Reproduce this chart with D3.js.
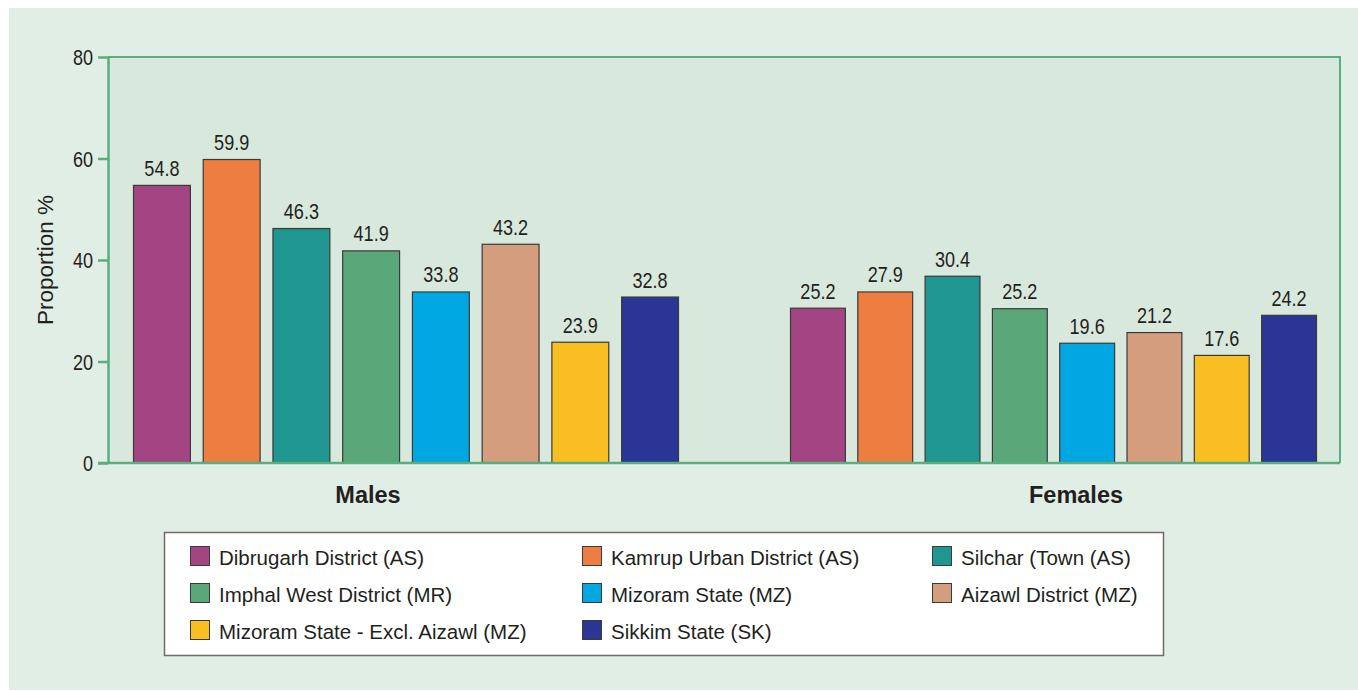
<!DOCTYPE html>
<html>
<head>
<meta charset="utf-8">
<script src="https://cdn.jsdelivr.net/npm/d3@7"></script>
<style>
  html, body { margin: 0; padding: 0; background: #ffffff; }
  svg { display: block; }
  .reg { font-family: "Liberation Sans", Arial, Helvetica, sans-serif; }
</style>
</head>
<body>
<script>
// ---------- DATA ----------
const groups = ["Males", "Females"];
const seriesNames = [
  "Dibrugarh District (AS)",
  "Kamrup Urban District (AS)",
  "Silchar (Town (AS)",
  "Imphal West District (MR)",
  "Mizoram State (MZ)",
  "Aizawl District (MZ)",
  "Mizoram State - Excl. Aizawl (MZ)",
  "Sikkim State (SK)"
];
const seriesColors = ["#a44583", "#ee7d42", "#1f9690", "#5aa77a", "#00a7e2", "#d49d7e", "#f9be22", "#2b3595"];
// printed value labels
const maleValues = [54.8, 59.9, 46.3, 41.9, 33.8, 43.2, 23.9, 32.8];
const femaleValues = [25.2, 27.9, 30.4, 25.2, 19.6, 21.2, 17.6, 24.2];
// bar heights as drawn in the picture (female bars are drawn taller than their labels)
const maleBarHeights = [54.8, 59.9, 46.3, 41.9, 33.8, 43.2, 23.9, 32.8];
const femaleBarHeights = [30.6, 33.8, 36.9, 30.5, 23.7, 25.8, 21.3, 29.2];
const yTicks = [0, 20, 40, 60, 80];
const yLabel = "Proportion %";

// ---------- LAYOUT ----------
const W = 1358, H = 691;
const plot = { left: 108, right: 1340, top: 57, bottom: 463 };
const groupRanges = { Males: [133, 679], Females: [790, 1317] };
const groupLabelX = { Males: 368, Females: 1076 };
const axisGreen = "#5aad7c";
const narrowScale = 0.84;

const svg = d3.select("body").append("svg").attr("width", W).attr("height", H);

// outer panel
svg.append("rect").attr("x", 9).attr("y", 8).attr("width", W - 9).attr("height", 682).attr("fill", "#e1eee5");
// plot background
svg.append("rect").attr("x", plot.left).attr("y", plot.top)
  .attr("width", plot.right - plot.left).attr("height", plot.bottom - plot.top)
  .attr("fill", "#d8e8dc");
// top and right border
svg.append("path")
  .attr("d", `M${plot.left},${plot.top}H${plot.right}V${plot.bottom}`)
  .attr("fill", "none").attr("stroke", axisGreen).attr("stroke-width", 2);

const y = d3.scaleLinear().domain([0, 80]).range([plot.bottom, plot.top]);

const data = {
  Males: { bars: maleBarHeights, labels: maleValues },
  Females: { bars: femaleBarHeights, labels: femaleValues }
};

groups.forEach(g => {
  const x = d3.scaleBand().domain(seriesNames).range(groupRanges[g]).paddingInner(0.17).paddingOuter(0);
  const rows = seriesNames.map((s, i) => ({ s, i, h: data[g].bars[i], v: data[g].labels[i] }));
  const gg = svg.append("g");
  gg.selectAll("rect").data(rows).join("rect")
    .attr("x", d => x(d.s) + 0.5)
    .attr("y", d => y(d.h) + 0.5)
    .attr("width", x.bandwidth() - 1)
    .attr("height", d => y(0) - y(d.h) - 0.5)
    .attr("fill", d => seriesColors[d.i])
    .attr("stroke", "#3a3a3a").attr("stroke-width", 1.2);
  gg.selectAll("text").data(rows).join("text")
    .attr("class", "reg")
    .attr("transform", d => `translate(${x(d.s) + x.bandwidth() / 2},${y(d.h) - 9}) scale(${narrowScale},1)`)
    .attr("text-anchor", "middle")
    .attr("font-size", 21.5).attr("fill", "#231f20")
    .text(d => d.v.toFixed(1));
  svg.append("text").attr("class", "reg")
    .attr("x", groupLabelX[g]).attr("y", 503)
    .attr("text-anchor", "middle").attr("font-weight", "bold")
    .attr("font-size", 23.5).attr("fill", "#231f20")
    .text(g);
});

// y axis
const yAxis = svg.append("g").attr("transform", `translate(${plot.left},0)`)
  .call(d3.axisLeft(y).tickValues(yTicks).tickSize(10).tickPadding(5).tickSizeOuter(0));
yAxis.select(".domain").attr("stroke", axisGreen).attr("stroke-width", 2.5);
yAxis.selectAll(".tick line").attr("stroke", axisGreen).attr("stroke-width", 2.5);
yAxis.selectAll(".tick text")
  .attr("class", "reg").attr("font-size", 21.5).attr("fill", "#231f20")
  .attr("x", null).attr("dy", null)
  .attr("transform", `translate(-15,7.5) scale(${narrowScale},1)`);

// bottom axis line
svg.append("line").attr("x1", plot.left - 10).attr("x2", plot.right)
  .attr("y1", plot.bottom).attr("y2", plot.bottom)
  .attr("stroke", axisGreen).attr("stroke-width", 2.5);

// y label
svg.append("text").attr("class", "reg")
  .attr("transform", `translate(53,${(plot.top + plot.bottom) / 2}) rotate(-90)`)
  .attr("text-anchor", "middle").attr("font-size", 22.5).attr("fill", "#231f20")
  .text(yLabel);

// legend
const legend = svg.append("g");
legend.append("rect").attr("x", 164.5).attr("y", 532.5).attr("width", 999).attr("height", 123)
  .attr("fill", "#ffffff").attr("stroke", "#6b6b6b").attr("stroke-width", 1.5);
const colX = [190, 582, 932];
const rowY = [565, 602, 639];
const items = legend.selectAll("g.item").data(seriesNames.map((s, i) => ({ s, i }))).join("g")
  .attr("class", "item")
  .attr("transform", d => `translate(${colX[d.i % 3]},${rowY[Math.floor(d.i / 3)]})`);
items.append("rect").attr("x", 0.5).attr("y", -18.5).attr("width", 19).attr("height", 19)
  .attr("fill", d => seriesColors[d.i]).attr("stroke", "#3a3a3a").attr("stroke-width", 1);
items.append("text").attr("class", "reg").attr("x", 29).attr("y", 0)
  .attr("font-size", 20.5).attr("fill", "#231f20").text(d => d.s);
</script>
</body>
</html>
